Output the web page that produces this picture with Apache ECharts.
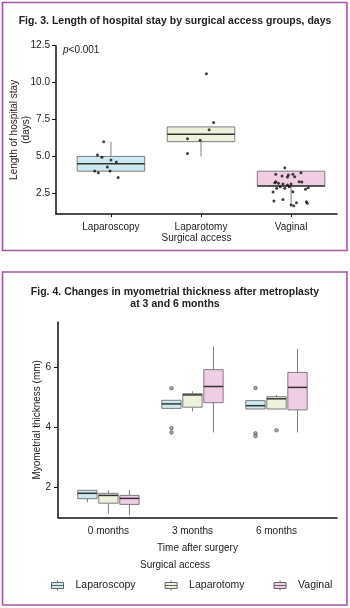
<!DOCTYPE html>
<html>
<head>
<meta charset="utf-8">
<script src="https://cdn.jsdelivr.net/npm/echarts@6/dist/echarts.min.js"></script>
<style>
  html, body { margin: 0; padding: 0; background: #fff; }
  #chart { width: 350px; height: 608px; }
</style>
</head>
<body>
<div id="chart"></div>
<script>
// ---- Fig. 3 : length of hospital stay ----
var stayGroups = ['Laparoscopy', 'Laparotomy', 'Vaginal'];
var stayTicks = [2.5, 5.0, 7.5, 10.0, 12.5];
// min, Q1, median, Q3, max
var stayBoxes = [
    [4.0, 4.0, 4.5, 5.0, 6.0],
    [5.0, 6.0, 6.5, 7.0, 7.0],
    [1.7, 3.0, 3.0, 4.0, 4.0]
];
// jittered points [x, days]
var stayLaparoscopy = [
    [0.92, 6.0], [0.85, 5.1], [0.90, 4.95], [1.00, 4.76], [1.06, 4.62],
    [0.96, 4.28], [0.82, 4.02], [0.86, 3.9], [0.99, 4.02], [1.08, 3.58]
];
var stayLaparotomy = [
    [2.06, 10.6], [2.14, 7.3], [2.09, 6.8], [1.85, 6.2], [1.99, 6.1], [1.85, 5.2]
];
var stayVaginal = [
    [2.93, 4.23], [3.11, 3.9], [2.83, 3.79], [2.90, 3.67], [2.96, 3.6],
    [2.97, 3.74], [3.02, 3.79], [3.04, 3.63], [2.83, 3.29], [2.86, 3.18],
    [2.82, 3.22], [2.91, 3.13], [2.96, 3.06], [3.00, 3.13], [3.09, 3.29],
    [3.12, 3.27], [2.88, 2.95], [2.93, 2.84], [2.98, 2.95], [2.84, 2.84],
    [3.16, 2.77], [3.19, 2.88], [3.02, 2.61], [2.80, 2.59], [2.81, 1.98],
    [2.91, 2.09], [3.00, 1.71], [3.03, 1.66], [3.06, 1.86], [3.17, 1.93],
    [3.18, 1.82]
];

// ---- Fig. 4 : myometrial thickness ----
var timeLabels = ['0 months', '3 months', '6 months'];
var thickTicks = [2, 4, 6];
// per time point: min, Q1, median, Q3, max
var thickLaparoscopy = [
    [1.5, 1.62, 1.8, 1.9, 1.9],
    [4.6, 4.63, 4.78, 4.9, 4.9],
    [4.6, 4.61, 4.72, 4.89, 4.89]
];
var thickLaparotomy = [
    [1.12, 1.47, 1.73, 1.8, 1.9],
    [4.53, 4.67, 5.08, 5.12, 5.2],
    [4.6, 4.61, 4.95, 5.02, 5.08]
];
var thickVaginal = [
    [1.07, 1.43, 1.63, 1.73, 1.9],
    [3.83, 4.82, 5.36, 5.92, 6.7],
    [3.83, 4.58, 5.33, 5.83, 6.61]
];
// outliers per time point
var outLaparoscopy = [[], [5.3, 3.97, 3.83], [5.31, 3.8, 3.71]];
var outLaparotomy = [[], [], [3.9]];
var outVaginal = [[], [], []];

var fills = ['#cce9f1', '#eef2dc', '#f1cde5'];
var edge = '#7d7d7d';
var font = 'Liberation Sans, Arial, sans-serif';

function boxRenderer(width, fill) {
    return function (params, api) {
        var x = api.value(0);
        var lo = api.coord([x, api.value(1)]);
        var q1 = api.coord([x, api.value(2)]);
        var md = api.coord([x, api.value(3)]);
        var q3 = api.coord([x, api.value(4)]);
        var hi = api.coord([x, api.value(5)]);
        var w = api.size([width, 0])[0];
        var cx = q1[0];
        return {
            type: 'group',
            children: [
                { type: 'line', shape: { x1: cx, y1: q1[1], x2: cx, y2: lo[1] },
                  style: { stroke: edge, lineWidth: 1 } },
                { type: 'line', shape: { x1: cx, y1: q3[1], x2: cx, y2: hi[1] },
                  style: { stroke: edge, lineWidth: 1 } },
                { type: 'rect', shape: { x: cx - w / 2, y: q3[1], width: w, height: q1[1] - q3[1] },
                  style: { fill: fill, stroke: edge, lineWidth: 1 } },
                { type: 'line', shape: { x1: cx - w / 2, y1: md[1], x2: cx + w / 2, y2: md[1] },
                  style: { stroke: '#333', lineWidth: 1.5 } }
            ]
        };
    };
}

var series = [];

// fig 3 boxes
stayBoxes.forEach(function (b, i) {
    series.push({
        type: 'custom',
        xAxisIndex: 0, yAxisIndex: 0,
        renderItem: boxRenderer(0.75, fills[i]),
        encode: { x: 0, y: [1, 2, 3, 4, 5] },
        data: [[i + 1].concat(b)],
        silent: true, z: 2
    });
});
[stayLaparoscopy, stayLaparotomy, stayVaginal].forEach(function (pts) {
    series.push({
        type: 'scatter',
        xAxisIndex: 0, yAxisIndex: 0,
        symbolSize: 3,
        itemStyle: { color: '#111' },
        data: pts, z: 3
    });
});

// fig 4 grouped boxes
var dodge = [-0.25, 0, 0.25];
[thickLaparoscopy, thickLaparotomy, thickVaginal].forEach(function (g, i) {
    series.push({
        type: 'custom',
        name: stayGroups[i],
        xAxisIndex: 1, yAxisIndex: 1,
        renderItem: boxRenderer(0.23, fills[i]),
        encode: { x: 0, y: [1, 2, 3, 4, 5] },
        itemStyle: { color: fills[i], borderColor: edge },
        data: g.map(function (b, t) { return [t + 1 + dodge[i]].concat(b); }),
        silent: true, z: 2
    });
});
[outLaparoscopy, outLaparotomy, outVaginal].forEach(function (g, i) {
    var pts = [];
    g.forEach(function (vals, t) {
        vals.forEach(function (v) { pts.push([t + 1 + dodge[i], v]); });
    });
    series.push({
        type: 'scatter',
        xAxisIndex: 1, yAxisIndex: 1,
        symbolSize: 3.5,
        itemStyle: { color: '#999', borderColor: '#444', borderWidth: 0.8 },
        data: pts, z: 3
    });
});

var axisText = { color: '#222', fontSize: 10, fontFamily: font };

var option = {
    animation: false,
    backgroundColor: '#fff',
    graphic: [
        { type: 'rect', shape: { x: 2.5, y: 2.5, width: 344.5, height: 248 },
          style: { fill: 'none', stroke: '#a5589f', lineWidth: 1.6 } },
        { type: 'rect', shape: { x: 2.5, y: 272, width: 344.5, height: 333 },
          style: { fill: 'none', stroke: '#a5589f', lineWidth: 1.6 } }
    ],
    title: [
        { text: 'Fig. 3. Length of hospital stay by surgical access groups, days',
          left: 175, top: 16, textAlign: 'center', padding: 0,
          textStyle: { fontSize: 10.5, fontWeight: 'bold', color: '#222', fontFamily: font } },
        { text: '{i|p}<0.001', left: 63, top: 45, padding: 0,
          textStyle: { fontSize: 10, fontWeight: 'normal', color: '#222', fontFamily: font,
                       rich: { i: { fontStyle: 'italic', fontSize: 10, fontFamily: font, color: '#222' } } } },
        { text: 'Fig. 4. Changes in myometrial thickness after metroplasty\nat 3 and 6 months',
          left: 175, top: 286, textAlign: 'center', padding: 0,
          textStyle: { fontSize: 10.5, fontWeight: 'bold', color: '#222', fontFamily: font,
                       lineHeight: 12, align: 'center' } },
        { text: 'Surgical access', left: 175, top: 560, textAlign: 'center', padding: 0,
          textStyle: { fontSize: 10, fontWeight: 'normal', color: '#222', fontFamily: font } }
    ],
    legend: {
        data: stayGroups,
        left: 51, top: 580, padding: 0,
        itemWidth: 12, itemHeight: 10, itemGap: 29,
        icon: 'path://M0,2H12V8H0Z M0,5H12 M6,0V2 M6,8V10',
        itemStyle: { borderColor: '#666', borderWidth: 1 },
        textStyle: { color: '#222', fontSize: 10.5, fontFamily: font, padding: [0, 0, 0, 7] }
    },
    grid: [
        { left: 56, right: 13, top: 45.7, bottom: 394, outerBoundsMode: 'none' },
        { left: 58, right: 13, top: 322.3, bottom: 90.7, outerBoundsMode: 'none' }
    ],
    xAxis: [
        { type: 'value', gridIndex: 0, min: 0.39, max: 3.51,
          name: 'Surgical access', nameLocation: 'middle', nameGap: 19, nameMoveOverlap: false,
          nameTextStyle: axisText,
          axisLine: { lineStyle: { color: '#111', width: 1.5 } },
          axisTick: { customValues: [1, 2, 3], length: 3, lineStyle: { color: '#111' } },
          axisLabel: { customValues: [1, 2, 3], margin: 8, color: '#222', fontSize: 10, fontFamily: font,
                       formatter: function (v) { return stayGroups[Math.round(v) - 1]; } },
          splitLine: { show: false } },
        { type: 'value', gridIndex: 1, min: 0.4, max: 3.72,
          name: 'Time after surgery', nameLocation: 'middle', nameGap: 26, nameMoveOverlap: false,
          nameTextStyle: axisText,
          axisLine: { lineStyle: { color: '#111', width: 1.5 } },
          axisTick: { show: false },
          axisLabel: { customValues: [1, 2, 3], margin: 9, color: '#222', fontSize: 10, fontFamily: font,
                       formatter: function (v) { return timeLabels[Math.round(v) - 1]; } },
          splitLine: { show: false } }
    ],
    yAxis: [
        { type: 'value', gridIndex: 0, min: 1.1, max: 12.5,
          name: 'Length of hospital stay\n(days)', nameLocation: 'middle', nameGap: 24, nameMoveOverlap: false,
          nameTextStyle: { color: '#222', fontSize: 10, fontFamily: font, lineHeight: 12 },
          axisLine: { show: true, lineStyle: { color: '#111', width: 1.5 } },
          axisTick: { show: true, customValues: stayTicks, length: 4, lineStyle: { color: '#111' } },
          axisLabel: { customValues: stayTicks, margin: 6, color: '#222', fontSize: 10, fontFamily: font,
                       formatter: function (v) { return v.toFixed(1); } },
          splitLine: { show: false } },
        { type: 'value', gridIndex: 1, min: 1, max: 7.5,
          name: 'Myometrial thickness (mm)', nameLocation: 'middle', nameGap: 16, nameMoveOverlap: false,
          nameTextStyle: axisText,
          axisLine: { show: true, lineStyle: { color: '#111', width: 1.5 } },
          axisTick: { show: true, customValues: thickTicks, length: 4, lineStyle: { color: '#111' } },
          axisLabel: { customValues: thickTicks, margin: 7, color: '#222', fontSize: 10, fontFamily: font },
          splitLine: { show: false } }
    ],
    series: series
};

var chart = echarts.init(document.getElementById('chart'), null, { renderer: 'canvas' });
chart.setOption(option);
</script>
</body>
</html>
